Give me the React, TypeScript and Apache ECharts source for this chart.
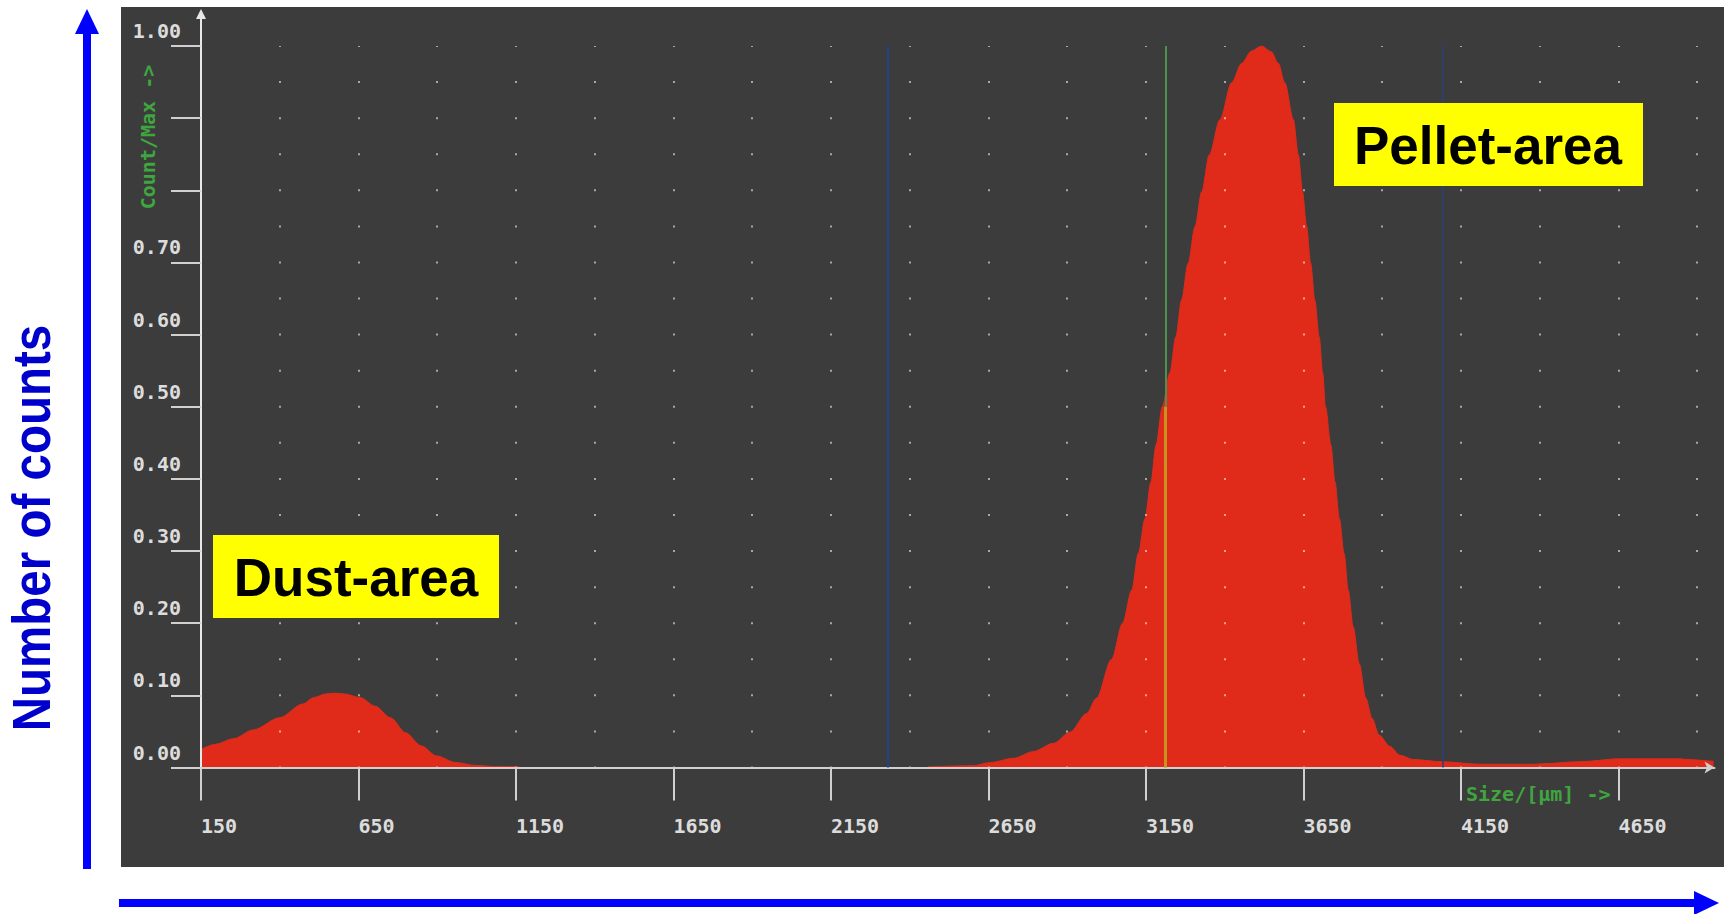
import React, { useEffect, useRef } from 'react';
import * as echarts from 'echarts';

const W = 1724;
const H = 914;

// ---- data ----
const xTickValues = [150, 650, 1150, 1650, 2150, 2650, 3150, 3650, 4150, 4650];
const yLabelValues = [0, 0.1, 0.2, 0.3, 0.4, 0.5, 0.6, 0.7, 1.0];

const dustSize = [150, 194, 254, 315, 400, 473, 509, 546, 575, 604, 655, 703, 752, 800, 849, 898, 958, 1019, 1080, 1160];
const dustCount = [0.025, 0.032, 0.04, 0.052, 0.069, 0.088, 0.097, 0.102, 0.103, 0.102, 0.097, 0.085, 0.069, 0.048, 0.03, 0.016, 0.007, 0.003, 0.0015, 0.001];

const pelletSize = [2459, 2602, 2655, 2729, 2792, 2856, 2909, 2962, 2993, 3041, 3076, 3105, 3126, 3147, 3166, 3182, 3202, 3226, 3245, 3263, 3284, 3306, 3327, 3351, 3385, 3422, 3454, 3485, 3517, 3548, 3570, 3591, 3618, 3634, 3647, 3660, 3673, 3686, 3700, 3711, 3720, 3737, 3750, 3764, 3779, 3792, 3808, 3827, 3848, 3868, 3890, 3925, 3956, 3999, 4091, 4210, 4379, 4400, 4527, 4654, 4845, 4866, 4952];
const pelletCount = [0.001, 0.0025, 0.0067, 0.0127, 0.022, 0.0335, 0.049, 0.075, 0.096, 0.15, 0.2, 0.246, 0.297, 0.345, 0.396, 0.447, 0.5, 0.547, 0.597, 0.648, 0.699, 0.75, 0.798, 0.849, 0.898, 0.949, 0.976, 0.993, 1.0, 0.992, 0.976, 0.949, 0.898, 0.849, 0.798, 0.75, 0.699, 0.648, 0.597, 0.547, 0.5, 0.447, 0.396, 0.345, 0.297, 0.246, 0.195, 0.144, 0.096, 0.068, 0.045, 0.029, 0.017, 0.011, 0.008, 0.0045, 0.0044, 0.005, 0.008, 0.012, 0.012, 0.011, 0.0085];

const cursorLeft = 2330;
const cursorMain = 3212;
const cursorMainSplit = 0.5;
const cursorRight = 4091;

// ---- layout ----
const GRID_LEFT = 201;
const GRID_TOP = 46;
const AXIS_Y = 767.5;
const GRID_RIGHT = 9.5;
const DOT_STEP = (AXIS_Y - GRID_TOP) / 20;
const X_MIN = 150;
const X_MAX = 4955;

const RED = '#e02b1a';
const AXIS_C = '#d0d0d0';
const GREEN = '#3fa53f';
const MONO = '"DejaVu Sans Mono", monospace';

export default function App() {
  const ref = useRef<HTMLDivElement>(null);

  useEffect(() => {
    if (!ref.current) return;
    const chart = echarts.init(ref.current, null, { renderer: 'svg', width: W, height: H });

    const dust = dustSize.map((s, i) => [s, dustCount[i]]);
    const pellet = pelletSize.map((s, i) => [s, pelletCount[i]]);

    const option: any = {
      animation: false,
      backgroundColor: '#ffffff',
      grid: { left: GRID_LEFT, top: GRID_TOP, right: GRID_RIGHT, bottom: H - AXIS_Y, containLabel: false },
      xAxis: [
        {
          type: 'value',
          min: X_MIN,
          max: X_MAX,
          interval: 500,
          z: 3,
          axisLine: {
            show: true,
            onZero: false,
            symbol: ['none', 'arrow'],
            symbolSize: [9, 10],
            lineStyle: { color: AXIS_C, width: 2 },
          },
          axisTick: { show: true, customValues: xTickValues, length: 33, lineStyle: { color: AXIS_C, width: 2 } },
          axisLabel: {
            customValues: xTickValues,
            align: 'left',
            margin: 48,
            color: '#dcdcdc',
            fontFamily: MONO,
            fontWeight: 'bold',
            fontSize: 20,
            formatter: (v: number) => (xTickValues.indexOf(v) >= 0 ? String(v) : ''),
          },
          splitLine: { show: false },
        },
        {
          // dotted background grid (every 250 µm, every 0.05)
          type: 'value',
          min: X_MIN,
          max: X_MAX,
          interval: 250,
          z: 3,
          axisLine: { show: false },
          axisTick: { show: false },
          axisLabel: { show: false },
          splitLine: {
            show: true,
            showMinLine: false,
            showMaxLine: false,
            lineStyle: { color: 'rgba(255,255,255,0.55)', width: 2, type: [2, DOT_STEP - 2], dashOffset: 1 },
          },
        },
      ],
      yAxis: {
        type: 'value',
        min: 0,
        max: 1,
        interval: 0.1,
        z: 3,
        axisLine: { show: true, lineStyle: { color: '#e8e8e8', width: 2 } },
        axisTick: { show: true, length: 30, lineStyle: { color: AXIS_C, width: 2 } },
        axisLabel: {
          margin: 20,
          verticalAlign: 'bottom',
          padding: [0, 0, 5, 0],
          color: '#dcdcdc',
          fontFamily: MONO,
          fontWeight: 'bold',
          fontSize: 20,
          formatter: (v: number) => (yLabelValues.some((l) => Math.abs(l - v) < 1e-6) ? v.toFixed(2) : ''),
        },
        splitLine: { show: false },
      },
      series: [
        {
          name: 'Dust-area',
          type: 'line',
          xAxisIndex: 0,
          data: dust,
          showSymbol: false,
          smooth: 0.3,
          smoothMonotone: 'x',
          lineStyle: { color: RED, width: 1 },
          areaStyle: { color: RED, opacity: 1 },
          z: 2,
        },
        {
          name: 'Pellet-area',
          type: 'line',
          xAxisIndex: 0,
          data: pellet,
          showSymbol: false,
          smooth: 0.3,
          smoothMonotone: 'x',
          lineStyle: { color: RED, width: 1 },
          areaStyle: { color: RED, opacity: 1 },
          z: 2,
          markLine: {
            silent: true,
            symbol: ['none', 'none'],
            label: { show: false },
            animation: false,
            data: [
              [{ coord: [cursorLeft, 0], lineStyle: { color: '#22418f', width: 2, type: 'solid' } }, { coord: [cursorLeft, 1] }],
              [{ coord: [cursorMain, cursorMainSplit], lineStyle: { color: '#4f8f4f', width: 2, type: 'solid' } }, { coord: [cursorMain, 1] }],
              [{ coord: [cursorMain, 0], lineStyle: { color: '#c8921e', width: 3, type: 'solid' } }, { coord: [cursorMain, cursorMainSplit] }],
              [{ coord: [cursorRight, 0], lineStyle: { color: '#2d3f78', width: 1.5, type: 'solid' } }, { coord: [cursorRight, 1] }],
            ],
          },
        },
      ],
      graphic: [
        { type: 'rect', z: -10, shape: { x: 121, y: 7, width: W - 121, height: 860 }, style: { fill: '#3c3c3c' } },
        { type: 'line', z: 10, shape: { x1: GRID_LEFT, y1: GRID_TOP, x2: GRID_LEFT, y2: 17 }, style: { stroke: '#e8e8e8', lineWidth: 2 } },
        { type: 'polygon', z: 10, shape: { points: [[196, 19], [206, 19], [201, 9]] }, style: { fill: '#e8e8e8' } },
        {
          type: 'text', z: 10, x: 148, y: 137, rotation: Math.PI / 2,
          style: { text: 'Count/Max ->', fill: GREEN, font: `bold 20px ${MONO}`, align: 'center', verticalAlign: 'middle' },
        },
        {
          type: 'text', z: 10, x: 1466, y: 794,
          style: { text: 'Size/[µm] ->', fill: GREEN, font: `bold 20px ${MONO}`, align: 'left', verticalAlign: 'middle' },
        },
        { type: 'rect', z: 20, shape: { x: 213, y: 535, width: 286, height: 83 }, style: { fill: '#ffff00' } },
        {
          type: 'text', z: 21, x: 356, y: 577,
          style: { text: 'Dust-area', fill: '#000000', font: 'bold 53px "Liberation Sans", Arial, sans-serif', align: 'center', verticalAlign: 'middle' },
        },
        { type: 'rect', z: 20, shape: { x: 1334, y: 103, width: 309, height: 83 }, style: { fill: '#ffff00' } },
        {
          type: 'text', z: 21, x: 1488, y: 145,
          style: { text: 'Pellet-area', fill: '#000000', font: 'bold 53px "Liberation Sans", Arial, sans-serif', align: 'center', verticalAlign: 'middle' },
        },
        { type: 'line', z: 10, shape: { x1: 87, y1: 869, x2: 87, y2: 30 }, style: { stroke: '#0000ff', lineWidth: 8 } },
        { type: 'polygon', z: 10, shape: { points: [[75, 34], [99, 34], [87, 9]] }, style: { fill: '#0000ff' } },
        { type: 'line', z: 10, shape: { x1: 119, y1: 903, x2: 1697, y2: 903 }, style: { stroke: '#0000ff', lineWidth: 8 } },
        { type: 'polygon', z: 10, shape: { points: [[1694, 891], [1694, 915], [1719, 903]] }, style: { fill: '#0000ff' } },
        {
          type: 'text', z: 10, x: 31, y: 528, rotation: Math.PI / 2, scaleX: 0.88,
          style: { text: 'Number of counts', fill: '#0000cc', font: 'bold 54px "Liberation Sans", Arial, sans-serif', align: 'center', verticalAlign: 'middle' },
        },
      ],
    };

    chart.setOption(option);
    return () => chart.dispose();
  }, []);

  return (
    <div
      ref={ref}
      style={{ position: 'fixed', left: 0, top: 0, width: W, height: H, background: '#ffffff' }}
    />
  );
}
